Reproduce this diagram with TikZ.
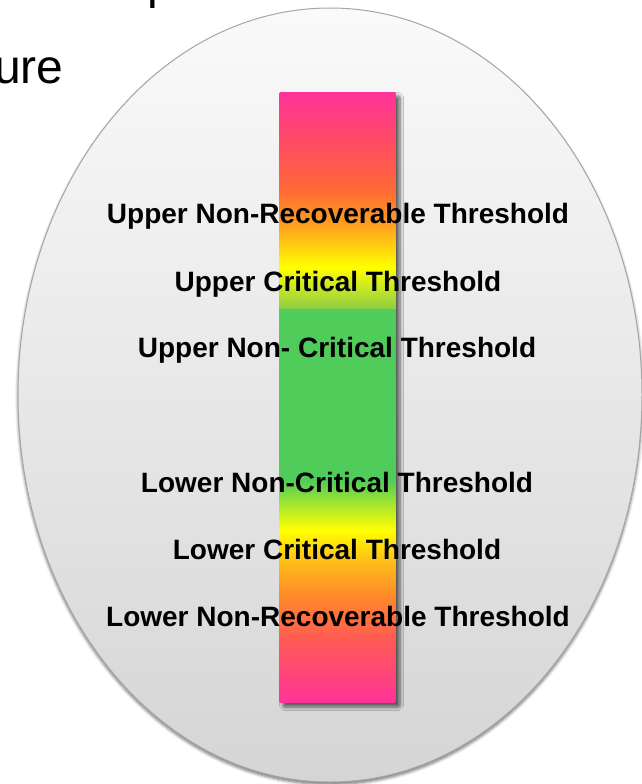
\documentclass[tikz,border=0pt]{standalone}
\usepackage{fontspec}
\setmainfont{Liberation Sans}
\usetikzlibrary{shadows.blur}
\definecolor{pk}{HTML}{FF3399}
\definecolor{cA}{HTML}{FF5A55}
\definecolor{cB}{HTML}{FF8A28}
\definecolor{cC}{HTML}{FFC018}
\definecolor{yl}{HTML}{FFFF00}
\definecolor{gyl}{HTML}{A8E62D}
\definecolor{gr}{HTML}{50CC5A}
\definecolor{gyA}{HTML}{8CCF40}
\definecolor{gyB}{HTML}{A8D838}
\definecolor{cD}{HTML}{FFA020}
\definecolor{cE}{HTML}{FF6A35}
\definecolor{cF}{HTML}{FF4A66}
\definecolor{ringgray}{HTML}{A6A6A6}
\definecolor{ovtop}{HTML}{FAFAFA}
\definecolor{ovbot}{HTML}{D5D5D5}
\pgfdeclareverticalshading{barshade}{100bp}{%
color(0bp)=(pk); color(25bp)=(pk); color(30.16bp)=(cA); color(33.84bp)=(cB);
color(36.70bp)=(cC); color(39.16bp)=(yl); color(41.2bp)=(gyl); color(43.25bp)=(gr);
color(57.24bp)=(gr); color(57.30bp)=(gyA); color(57.98bp)=(gyB); color(60.68bp)=(yl);
color(64.12bp)=(cD); color(66.98bp)=(cE); color(71.07bp)=(cF); color(75bp)=(pk);
color(100bp)=(pk)}
\tikzset{
  label text/.style={anchor=base, inner sep=0pt, font=\fontsize{28}{34}\selectfont\bfseries, text=black},
  title text/.style={anchor=base west, inner sep=0pt, font=\fontsize{48}{58}\selectfont, text=black},
  oval/.style={draw=ringgray, line width=1pt, top color=ovtop, bottom color=ovbot,
    blur shadow={shadow xshift=0pt, shadow yshift=-2.5pt, shadow blur radius=3pt, shadow blur steps=6, shadow opacity=55}},
  scalebar/.style={shading=barshade, rounded corners=2pt,
    blur shadow={shadow xshift=4pt, shadow yshift=-4pt, shadow blur radius=3.5pt, shadow blur steps=6, shadow opacity=60}}
}
\begin{document}
\begin{tikzpicture}[x=1pt,y=-1pt]
\useasboundingbox (0,0) rectangle (642,784);
\clip (0,0) rectangle (642,784);
\node[title text] (ure) at (-6,83) {ure};
\node[title text] (pch) at (147,-1) {p};
\path[oval] (330,395) ellipse [x radius=312pt, y radius=387pt];
\path[scalebar] (279,92) rectangle (396,703);
\node[label text] (unr) at (338,223) {Upper Non-Recoverable Threshold};
\node[label text] (uc)  at (338,291) {Upper Critical Threshold};
\node[label text] (unc) at (337,357) {Upper Non- Critical Threshold};
\node[label text] (lnc) at (337,492) {Lower Non-Critical Threshold};
\node[label text] (lc)  at (337,559) {Lower Critical Threshold};
\node[label text] (lnr) at (338,626) {Lower Non-Recoverable Threshold};
\end{tikzpicture}
\end{document}
